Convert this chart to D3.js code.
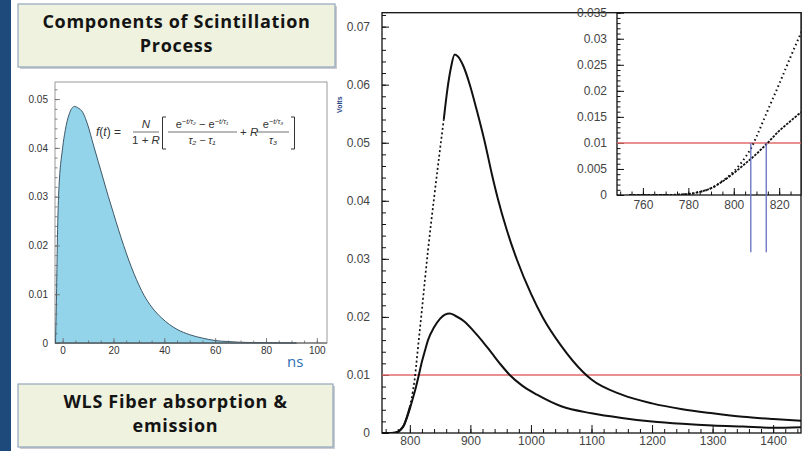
<!DOCTYPE html>
<html>
<head>
<meta charset="utf-8">
<script src="https://cdn.jsdelivr.net/npm/d3@7"></script>
<style>
  body { margin: 0; background: #fff; }
  svg text { font-family: "Liberation Sans", Arial, sans-serif; }
</style>
</head>
<body>
<svg id="chart" width="802" height="451"></svg>
<script>
// scintillation pulse shape (left panel), ns vs amplitude
const scintTime = [-2.8, -2.4, -2.1, -1.6, 0, 1, 2.5, 4.7, 6, 8, 10, 12, 14, 16, 18, 20, 22, 24, 26, 28, 30, 32, 35, 39, 42, 45, 50, 55, 60, 65, 70, 80, 92];
const scintValue = [0, 0.010, 0.020, 0.030, 0.040, 0.0435, 0.0468, 0.0485, 0.0482, 0.0472, 0.0445, 0.0408, 0.0372, 0.0336, 0.030, 0.0266, 0.0232, 0.020, 0.017, 0.0143, 0.0119, 0.0098, 0.0074, 0.0051, 0.0038, 0.0028, 0.0017, 0.001, 0.0005, 0.0003, 0.00015, 0.00005, 0];
const scintTicksX = [0, 20, 40, 60, 80, 100];
const scintTickLabelsX = ['0', '20', '40', '60', '80', '100'];
const scintTicksY = [0, 0.01, 0.02, 0.03, 0.04, 0.05];
const scintTickLabelsY = ['0', '0.01', '0.02', '0.03', '0.04', '0.05'];

// WLS fibre pulses (right panel), time vs volts
const pulseTimeA = [754, 770, 780, 785, 790, 795, 800, 805, 808, 810, 815, 820, 825, 830, 840, 850, 856, 862, 868, 874, 880, 888, 899, 910, 924, 935, 945, 960, 977, 1000, 1020, 1050, 1086, 1100, 1150, 1200, 1250, 1300, 1350, 1400, 1446];
const pulseValueA = [0, 0, 0.0002, 0.0006, 0.0013, 0.0027, 0.0045, 0.0072, 0.0093, 0.0112, 0.0163, 0.0213, 0.0265, 0.0315, 0.0405, 0.049, 0.054, 0.0592, 0.063, 0.0652, 0.0648, 0.0633, 0.060, 0.0558, 0.050, 0.0448, 0.0405, 0.035, 0.0298, 0.024, 0.0198, 0.015, 0.0105, 0.0092, 0.0066, 0.0051, 0.0041, 0.0034, 0.0028, 0.0024, 0.0021];
const pulseTimeB = [754, 770, 780, 785, 790, 795, 800, 805, 810, 814, 820, 825, 830, 840, 850, 858, 866, 875, 890, 905, 920, 935, 950, 965, 985, 1010, 1050, 1100, 1150, 1200, 1250, 1300, 1350, 1400, 1446];
const pulseValueB = [0, 0, 0.0002, 0.0006, 0.0013, 0.0026, 0.0042, 0.006, 0.0079, 0.0096, 0.0123, 0.0142, 0.016, 0.0182, 0.0197, 0.0204, 0.0206, 0.0202, 0.0192, 0.0176, 0.0158, 0.0138, 0.0118, 0.0100, 0.0082, 0.0066, 0.0046, 0.0034, 0.0026, 0.0020, 0.0016, 0.0013, 0.0011, 0.0009, 0.001];
const threshold = 0.01;
const crossTimes = [807.5, 814.3];
const dottedUntil = 858;

const mainTicksX = [800, 900, 1000, 1100, 1200, 1300, 1400];
const mainTickLabelsX = ['800', '900', '1000', '1100', '1200', '1300', '1400'];
const mainTicksY = [0, 0.01, 0.02, 0.03, 0.04, 0.05, 0.06, 0.07];
const mainTickLabelsY = ['0', '0.01', '0.02', '0.03', '0.04', '0.05', '0.06', '0.07'];
const insetTicksX = [760, 780, 800, 820];
const insetTickLabelsX = ['760', '780', '800', '820'];
const insetTicksY = [0, 0.005, 0.01, 0.015, 0.02, 0.025, 0.03, 0.035];
const insetTickLabelsY = ['0', '0.005', '0.01', '0.015', '0.02', '0.025', '0.03', '0.035'];

const svg = d3.select('#chart');

// slide side bar
svg.append('rect').attr('x', 0).attr('y', 0).attr('width', 11).attr('height', 451).attr('fill', '#1d4a7a');

// title boxes
function titleBox(x, y, w, h, lines, firstLineY, lineGap) {
  let g = svg.append('g');
  g.append('rect').attr('x', x + 2).attr('y', y + 2).attr('width', w).attr('height', h).attr('fill', '#c9cdd2');
  g.append('rect').attr('x', x).attr('y', y).attr('width', w).attr('height', h)
    .attr('fill', '#eef2de').attr('stroke', '#93a6bb').attr('stroke-width', 1.2);
  lines.forEach(function(l, i) {
    g.append('text').attr('x', x + w / 2).attr('y', firstLineY + i * lineGap)
      .attr('text-anchor', 'middle').attr('font-size', 18).attr('font-weight', 'bold')
      .attr('letter-spacing', 0.7)
      .style('font-family', '"Open Sans", Lato, sans-serif').attr('fill', '#141414').text(l);
  });
}
titleBox(18, 4, 317, 63, ['Components of Scintillation', 'Process'], 27.5, 24.6);
titleBox(18, 384, 315, 63, ['WLS Fiber absorption &', 'emission'], 407.5, 24.6);

// axis helper: major + minor ticks drawn inward
function drawAxis(g, axisGen, scale, majorVals, labels, minorVals, o) {
  let gMinor = g.append('g').attr('transform', o.transform)
    .call(axisGen(scale).tickValues(minorVals).tickSize(-o.minor).tickFormat(''));
  gMinor.select('.domain').remove();
  let gMajor = g.append('g').attr('transform', o.transform)
    .call(axisGen(scale).tickValues(majorVals).tickSize(-o.major).tickPadding(o.pad)
      .tickFormat(function(d, i) { return labels[i]; }));
  gMajor.select('.domain').remove();
  gMajor.attr('font-size', o.fontSize).attr('font-family', '"Liberation Sans", Arial, sans-serif');
  gMajor.selectAll('text').attr('fill', o.textColor);
  g.selectAll('.tick line').attr('stroke', o.lineColor).attr('stroke-width', o.lineWidth);
}

// ---------- left panel ----------
let lx = d3.scaleLinear().domain([-3, 104]).range([55, 327]);
let ly = d3.scaleLinear().domain([0, 0.0535]).range([343, 82]);
let left = svg.append('g');

left.append('rect').attr('x', lx(-3)).attr('y', ly(0.0535))
  .attr('width', lx(104) - lx(-3)).attr('height', ly(0) - ly(0.0535))
  .attr('fill', '#fff').attr('stroke', '#9a9a9a').attr('stroke-width', 1);

let scintData = scintTime.map(function(t, i) { return [t, scintValue[i]]; });
left.append('path')
  .datum(scintData)
  .attr('fill', '#93d4ea')
  .attr('stroke', '#3f5868')
  .attr('stroke-width', 1)
  .attr('d', d3.area()
    .x(function(d) { return lx(d[0]); })
    .y0(ly(0))
    .y1(function(d) { return ly(d[1]); })
    .curve(d3.curveMonotoneX));

let leftAxisOpts = {fontSize: 10, textColor: '#333', lineColor: '#666', lineWidth: 0.8};
drawAxis(left, d3.axisBottom, lx, scintTicksX, scintTickLabelsX, d3.range(0, 101, 5),
  Object.assign({transform: 'translate(0,' + ly(0) + ')', major: 5, minor: 2.5, pad: 4}, leftAxisOpts));
drawAxis(left, d3.axisLeft, ly, scintTicksY, scintTickLabelsY, d3.range(0, 0.0531, 0.002),
  Object.assign({transform: 'translate(' + lx(-3) + ',0)', major: 5, minor: 2.5, pad: 7}, leftAxisOpts));
left.append('line').attr('x1', lx(-3)).attr('x2', lx(104)).attr('y1', ly(0)).attr('y2', ly(0))
  .attr('stroke', '#555').attr('stroke-width', 1);

left.append('text').attr('x', 287).attr('y', 367).attr('font-size', 15)
  .style('font-family', '"Open Sans", sans-serif').attr('fill', '#2f6fb0').text('ns');

// formula
let fm = left.append('g').attr('fill', '#333')
  .style('font-family', '"Liberation Serif", "DejaVu Serif", serif');
let fText = fm.append('text').attr('x', 96).attr('y', 136).attr('font-size', 12);
fText.append('tspan').attr('font-style', 'italic').text('f');
fText.append('tspan').text('(');
fText.append('tspan').attr('font-style', 'italic').text('t');
fText.append('tspan').text(') =');

fm.append('text').attr('x', 146).attr('y', 128).attr('text-anchor', 'middle')
  .attr('font-size', 11.5).attr('font-style', 'italic').text('N');
fm.append('line').attr('x1', 133).attr('x2', 159).attr('y1', 132).attr('y2', 132)
  .attr('stroke', '#333').attr('stroke-width', 0.7);
let den1 = fm.append('text').attr('x', 146).attr('y', 144).attr('text-anchor', 'middle').attr('font-size', 11.5);
den1.append('tspan').text('1 + ');
den1.append('tspan').attr('font-style', 'italic').text('R');

fm.append('path').attr('d', 'M166,117 h-3.5 v32 h3.5').attr('fill', 'none').attr('stroke', '#333').attr('stroke-width', 1);
fm.append('path').attr('d', 'M291,117 h3.5 v32 h-3.5').attr('fill', 'none').attr('stroke', '#333').attr('stroke-width', 1);

let num2 = fm.append('text').attr('x', 202).attr('y', 128).attr('text-anchor', 'middle').attr('font-size', 11);
num2.append('tspan').text('e');
num2.append('tspan').attr('dy', -4).attr('font-size', 7.5).attr('font-style', 'italic').text('−t/τ₂');
num2.append('tspan').attr('dy', 4).text(' − e');
num2.append('tspan').attr('dy', -4).attr('font-size', 7.5).attr('font-style', 'italic').text('−t/τ₁');
fm.append('line').attr('x1', 168).attr('x2', 237).attr('y1', 132).attr('y2', 132)
  .attr('stroke', '#333').attr('stroke-width', 0.7);
fm.append('text').attr('x', 202).attr('y', 144).attr('text-anchor', 'middle')
  .attr('font-size', 10.5).attr('font-style', 'italic').text('τ₂ − τ₁');

let plus = fm.append('text').attr('x', 240).attr('y', 136).attr('font-size', 11.5);
plus.append('tspan').text('+ ');
plus.append('tspan').attr('font-style', 'italic').text('R');

let num3 = fm.append('text').attr('x', 273).attr('y', 128).attr('text-anchor', 'middle').attr('font-size', 11);
num3.append('tspan').text('e');
num3.append('tspan').attr('dy', -4).attr('font-size', 7.5).attr('font-style', 'italic').text('−t/τ₃');
fm.append('line').attr('x1', 257).attr('x2', 289).attr('y1', 132).attr('y2', 132)
  .attr('stroke', '#333').attr('stroke-width', 0.7);
fm.append('text').attr('x', 273).attr('y', 144).attr('text-anchor', 'middle')
  .attr('font-size', 10.5).attr('font-style', 'italic').text('τ₃');

// ---------- right panel ----------
let mx = d3.scaleLinear().domain([754, 1446]).range([382, 801]);
let my = d3.scaleLinear().domain([0, 0.0724]).range([433, 12.7]);
let right = svg.append('g');

svg.append('clipPath').attr('id', 'mainClip').append('rect')
  .attr('x', mx(754)).attr('y', my(0.0724)).attr('width', mx(1446) - mx(754)).attr('height', my(0) - my(0.0724));

right.append('text').attr('transform', 'translate(342,113) rotate(-90)')
  .attr('font-size', 7).attr('font-weight', 'bold').attr('fill', '#2b4684').text('Volts');

let mainAxisOpts = {fontSize: 12, textColor: '#444', lineColor: '#111', lineWidth: 1};
drawAxis(right, d3.axisBottom, mx, mainTicksX, mainTickLabelsX, d3.range(760, 1441, 20),
  Object.assign({transform: 'translate(0,' + my(0) + ')', major: 8, minor: 4, pad: 3}, mainAxisOpts));
drawAxis(right, d3.axisLeft, my, mainTicksY, mainTickLabelsY, d3.range(0, 0.0721, 0.002),
  Object.assign({transform: 'translate(' + mx(754) + ',0)', major: 7, minor: 4, pad: 12}, mainAxisOpts));

right.append('rect').attr('x', mx(754)).attr('y', my(0.0724))
  .attr('width', mx(1446) - mx(754)).attr('height', my(0) - my(0.0724))
  .attr('fill', 'none').attr('stroke', '#111').attr('stroke-width', 1.3);

right.append('line').attr('x1', mx(754)).attr('x2', mx(1446)).attr('y1', my(threshold)).attr('y2', my(threshold))
  .attr('stroke', '#e06a6a').attr('stroke-width', 1.5);

let dataA = pulseTimeA.map(function(t, i) { return [t, pulseValueA[i]]; });
let dataB = pulseTimeB.map(function(t, i) { return [t, pulseValueB[i]]; });

let mainLine = d3.line()
  .x(function(d) { return mx(d[0]); })
  .y(function(d) { return my(d[1]); })
  .curve(d3.curveMonotoneX);

let curves = right.append('g').attr('clip-path', 'url(#mainClip)');
curves.append('path').datum(dataB).attr('d', mainLine)
  .attr('fill', 'none').attr('stroke', '#111').attr('stroke-width', 2);
curves.append('path').datum(dataA.filter(function(d) { return d[0] <= 800; })).attr('d', mainLine)
  .attr('fill', 'none').attr('stroke', '#111').attr('stroke-width', 2);
curves.append('path').datum(dataA.filter(function(d) { return d[0] >= 800 && d[0] <= dottedUntil; })).attr('d', mainLine)
  .attr('fill', 'none').attr('stroke', '#111').attr('stroke-width', 1.7).attr('stroke-dasharray', '2,2.5');
curves.append('path').datum(dataA.filter(function(d) { return d[0] >= dottedUntil - 6; })).attr('d', mainLine)
  .attr('fill', 'none').attr('stroke', '#111').attr('stroke-width', 2);

// ---------- inset ----------
let ix = d3.scaleLinear().domain([748.6, 829.6]).range([617, 801]);
let iy = d3.scaleLinear().domain([0, 0.035]).range([195, 12.7]);
let inset = svg.append('g');

svg.append('clipPath').attr('id', 'insetClip').append('rect')
  .attr('x', ix(748.6)).attr('y', iy(0.035)).attr('width', ix(829.6) - ix(748.6)).attr('height', iy(0) - iy(0.035));

inset.append('rect').attr('x', ix(748.6)).attr('y', iy(0.035))
  .attr('width', ix(829.6) - ix(748.6)).attr('height', iy(0) - iy(0.035)).attr('fill', '#fff');

let insetAxisOpts = {fontSize: 12, textColor: '#444', lineColor: '#111', lineWidth: 1};
drawAxis(inset, d3.axisBottom, ix, insetTicksX, insetTickLabelsX, d3.range(750, 830, 5),
  Object.assign({transform: 'translate(0,' + iy(0) + ')', major: 7, minor: 3.5, pad: 5}, insetAxisOpts));
drawAxis(inset, d3.axisLeft, iy, insetTicksY, insetTickLabelsY, d3.range(0, 0.0351, 0.001),
  Object.assign({transform: 'translate(' + ix(748.6) + ',0)', major: 7, minor: 3.5, pad: 10}, insetAxisOpts));

inset.append('rect').attr('x', ix(748.6)).attr('y', iy(0.035))
  .attr('width', ix(829.6) - ix(748.6)).attr('height', iy(0) - iy(0.035))
  .attr('fill', 'none').attr('stroke', '#111').attr('stroke-width', 1.3);

inset.append('line').attr('x1', ix(748.6)).attr('x2', ix(829.6)).attr('y1', iy(threshold)).attr('y2', iy(threshold))
  .attr('stroke', '#e06a6a').attr('stroke-width', 1.5);

let insetLine = d3.line()
  .x(function(d) { return ix(d[0]); })
  .y(function(d) { return iy(d[1]); })
  .curve(d3.curveMonotoneX);

let insetCurves = inset.append('g').attr('clip-path', 'url(#insetClip)');
insetCurves.append('path').datum(dataB).attr('d', insetLine)
  .attr('fill', 'none').attr('stroke', '#111').attr('stroke-width', 1.8).attr('stroke-dasharray', '2.5,1.2');
insetCurves.append('path').datum(dataA).attr('d', insetLine)
  .attr('fill', 'none').attr('stroke', '#111').attr('stroke-width', 2).attr('stroke-dasharray', '1.5,3');

inset.selectAll('.crossing')
  .data(crossTimes)
  .enter().append('line')
  .attr('class', 'crossing')
  .attr('x1', function(d) { return ix(d); })
  .attr('x2', function(d) { return ix(d); })
  .attr('y1', iy(threshold))
  .attr('y2', iy(-0.011))
  .attr('stroke', '#6470bf')
  .attr('stroke-width', 1.3);
</script>
</body>
</html>
